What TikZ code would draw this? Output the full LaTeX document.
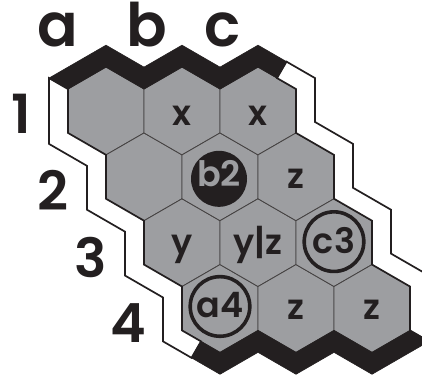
\documentclass[tikz,border=0pt]{standalone}
\usepackage{fontspec}
\setmainfont{Poppins}[BoldFont={* SemiBold}]
\usetikzlibrary{calc}

\definecolor{boardgray}{RGB}{157,158,161}
\definecolor{inkblack}{RGB}{35,31,32}

\begin{document}
\begin{tikzpicture}[
    x={(1pt,0pt)},
    y={(0pt,-1pt)},
    cell/.style={fill=boardgray, draw=inkblack!85, line width=0.8pt},
    sideband/.style={fill=white, draw=inkblack, line width=1.7pt, line join=miter},
    goalband/.style={fill=inkblack, draw=inkblack, line width=0.6pt, line join=miter},
    coordlabel/.style={anchor=base, inner sep=0pt, text=inkblack,
        font=\bfseries\fontsize{60}{60}\selectfont},
    rowlabel/.style={coordlabel, font=\bfseries\fontsize{54}{54}\selectfont},
    mark text/.style={anchor=base, inner sep=0pt, text=inkblack,
        font=\bfseries\fontsize{35}{35}\selectfont}
]
\useasboundingbox (0,0) rectangle (422,377);
\clip (0,0) rectangle (422,377);

% Cell centres
\foreach \c [count=\i from 0] in {a,b,c}
    \foreach \r in {1,...,4}
        \coordinate (\c\r) at ({106+76*\i+38*(\r-1)},{111+65.82*(\r-1)});

% Cells
\foreach \c in {a,b,c}
    \foreach \r in {1,...,4}
        \draw[cell] ($(\c\r)+(0,-43.88)$) -- ++(38,21.94) -- ++(0,43.88)
            -- ++(-38,21.94) -- ++(-38,-21.94) -- ++(0,-43.88) -- cycle;

% Left and right edges
\draw[sideband] (49,78.09) -- (49,143.91) -- (87,165.85) -- (87,209.73)
    -- (125,231.67) -- (125,275.55) -- (163,297.49) -- (163,341.37)
    -- (191.5,357.82) -- (201,341.37) -- (182,330.4) -- (182,286.52)
    -- (144,264.58) -- (144,220.7) -- (106,198.76) -- (106,154.88)
    -- (68,132.94) -- (68,89.06) -- cycle;
\draw[sideband] (286.5,61.64) -- (315,78.09) -- (315,121.97) -- (353,143.91)
    -- (353,187.79) -- (391,209.73) -- (391,253.61) -- (429,275.55)
    -- (429,341.37) -- (410,330.4) -- (410,286.52) -- (372,264.58)
    -- (372,220.7) -- (334,198.76) -- (334,154.88) -- (296,132.94)
    -- (296,89.06) -- (277,78.09) -- cycle;

% Top and bottom edges
\draw[goalband] (49,78.09) -- (106,45.18) -- (144,67.12) -- (182,45.18)
    -- (220,67.12) -- (258,45.18) -- (286.5,61.64) -- (277,78.09)
    -- (258,67.12) -- (220,89.06) -- (182,67.12) -- (144,89.06)
    -- (106,67.12) -- (68,89.06) -- cycle;
\draw[goalband] (191.5,357.82) -- (220,374.28) -- (258,352.34) -- (296,374.28)
    -- (334,352.34) -- (372,374.28) -- (429,341.37) -- (410,330.4)
    -- (372,352.34) -- (334,330.4) -- (296,352.34) -- (258,330.4)
    -- (220,352.34) -- (201,341.37) -- cycle;

% Coordinates
\node[coordlabel] (la) at (58,47) {a};
\node[coordlabel] (lb) at (147,47) {b};
\node[coordlabel] (lc) at (223,47) {c};
\node[rowlabel] (l1) at (21,133) {1};
\node[rowlabel] (l2) at (53,210) {2};
\node[rowlabel] (l3) at (91,277) {3};
\node[rowlabel] (l4) at (128,342) {4};

% Stone and circled cells
\fill[inkblack] ($(b2)+(-1,2)$) circle (28pt);
\draw[inkblack, line width=3.6pt] ($(c3)+(0,-1)$) circle (29.8pt);
\draw[inkblack, line width=3.6pt] ($(a4)+(0,-2)$) circle (29.8pt);

% Cell marks
\node[mark text] (mb1) at ($(b1)+(0,14)$) {x};
\node[mark text] (mc1) at ($(c1)+(0,14)$) {x};
\node[mark text, text=boardgray] (mb2) at ($(b2)+(-1,10)$) {b2};
\node[mark text] (mc2) at ($(c2)+(0,12)$) {z};
\node[mark text] (ma3) at ($(a3)+(0,12)$) {y};
\node[mark text] (mb3) at ($(b3)+(0,12)$) {y|z};
\node[mark text] (mc3) at ($(c3)+(0,11)$) {c3};
\node[mark text] (ma4) at ($(a4)+(0,9)$) {a4};
\node[mark text] (mb4) at ($(b4)+(0,11)$) {z};
\node[mark text] (mc4) at ($(c4)+(0,11)$) {z};
\end{tikzpicture}
\end{document}
